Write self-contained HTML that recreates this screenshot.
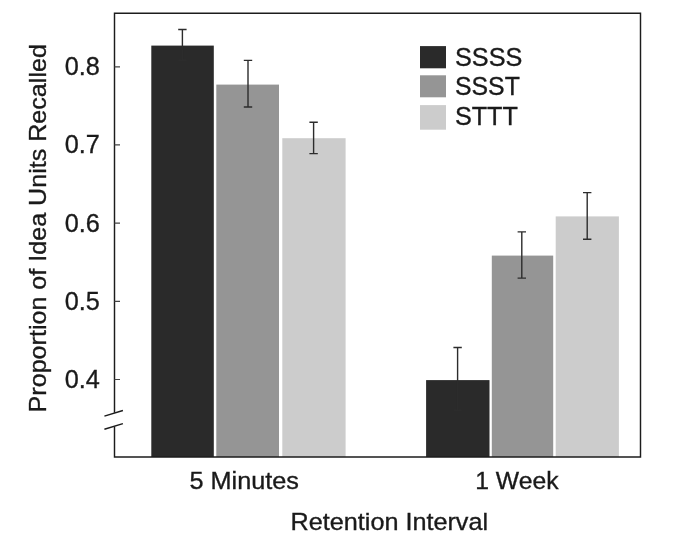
<!DOCTYPE html>
<html>
<head>
<meta charset="utf-8">
<title>Retention Interval</title>
<style>
html,body{margin:0;padding:0;background:#fff;}
body{width:680px;height:542px;overflow:hidden;}
svg{display:block;}
text{font-family:"Liberation Sans",Arial,Helvetica,sans-serif;fill:#1a1a1a;stroke:#1a1a1a;stroke-width:0.35;}
</style>
</head>
<body>
<svg width="680" height="542" viewBox="0 0 680 542">
<rect x="0" y="0" width="680" height="542" fill="#ffffff"/>
<!-- bars: 5 minutes -->
<rect x="151.3" y="45.6" width="62.5" height="411.4" fill="#2a2a2a"/>
<rect x="216.3" y="84.6" width="62.7" height="372.4" fill="#959595"/>
<rect x="282.3" y="138.2" width="63.3" height="318.8" fill="#cccccc"/>
<!-- bars: 1 week -->
<rect x="426.1" y="380.1" width="63.4" height="76.9" fill="#2a2a2a"/>
<rect x="491.8" y="255.6" width="61.4" height="201.4" fill="#959595"/>
<rect x="555.7" y="216.4" width="63.2" height="240.6" fill="#cccccc"/>
<!-- frame -->
<g fill="none" stroke="#1c1c1c" stroke-width="1.45">
<path d="M114.5 412.8V13.15H640.5V457H114.5V426.6"/>
<path d="M104.4 416.1L122.9 410.5M104.4 429.3L122.9 423.6"/>
</g>
<!-- ticks -->
<g stroke="#444" stroke-width="1.2">
<path d="M114.5 66.8H120M114.5 144.9H120M114.5 223.1H120M114.5 301.3H120M114.5 379.5H120"/>
</g>
<!-- error bars -->
<g stroke="#2c2c2c" stroke-width="1.4" fill="none">
<path d="M182.4 29.5V60.3M178.2 29.5H186.6M178.2 60.3H186.6"/>
<path d="M248 60.4V107M243.8 60.4H252.2M243.8 107H252.2"/>
<path d="M313.6 122.3V153.6M309.4 122.3H317.8M309.4 153.6H317.8"/>
<path d="M457.6 347.5V410.2M453.4 347.5H461.8M453.4 410.2H461.8"/>
<path d="M521.8 231.9V278.1M517.6 231.9H526M517.6 278.1H526"/>
<path d="M587.2 192.6V239.2M583 192.6H591.4M583 239.2H591.4"/>
</g>
<!-- legend -->
<rect x="420" y="46.1" width="26" height="22.2" fill="#2a2a2a"/>
<rect x="420" y="75.3" width="26" height="22" fill="#959595"/>
<rect x="420" y="105.1" width="26" height="24.6" fill="#cccccc"/>
<g font-size="25">
<text x="455" y="65.8" textLength="67.3" lengthAdjust="spacingAndGlyphs">SSSS</text>
<text x="455" y="95.4" textLength="64.8" lengthAdjust="spacingAndGlyphs">SSST</text>
<text x="454.9" y="125.3" textLength="63" lengthAdjust="spacingAndGlyphs">STTT</text>
<!-- y tick labels -->
<text x="64.7" y="74.7" font-size="26.3" textLength="35.1" lengthAdjust="spacingAndGlyphs">0.8</text>
<text x="64.7" y="152.9" font-size="26.3" textLength="35.1" lengthAdjust="spacingAndGlyphs">0.7</text>
<text x="64.7" y="231.8" font-size="26.3" textLength="35.1" lengthAdjust="spacingAndGlyphs">0.6</text>
<text x="64.7" y="310.0" font-size="26.3" textLength="35.1" lengthAdjust="spacingAndGlyphs">0.5</text>
<text x="64.7" y="388.2" font-size="26.3" textLength="35.1" lengthAdjust="spacingAndGlyphs">0.4</text>
<!-- x labels -->
<text x="189.5" y="488.5" font-size="24.6" textLength="109.5" lengthAdjust="spacingAndGlyphs">5 Minutes</text>
<text x="475.2" y="488.5" font-size="24.6" textLength="83.3" lengthAdjust="spacingAndGlyphs">1 Week</text>
<text x="290.5" y="530.4" font-size="24.5" textLength="197.6" lengthAdjust="spacingAndGlyphs">Retention Interval</text>
<text transform="translate(46.3 412.4) rotate(-90)" font-size="23.8" textLength="368.3" lengthAdjust="spacingAndGlyphs">Proportion of Idea Units Recalled</text>
</g>
</svg>
</body>
</html>
